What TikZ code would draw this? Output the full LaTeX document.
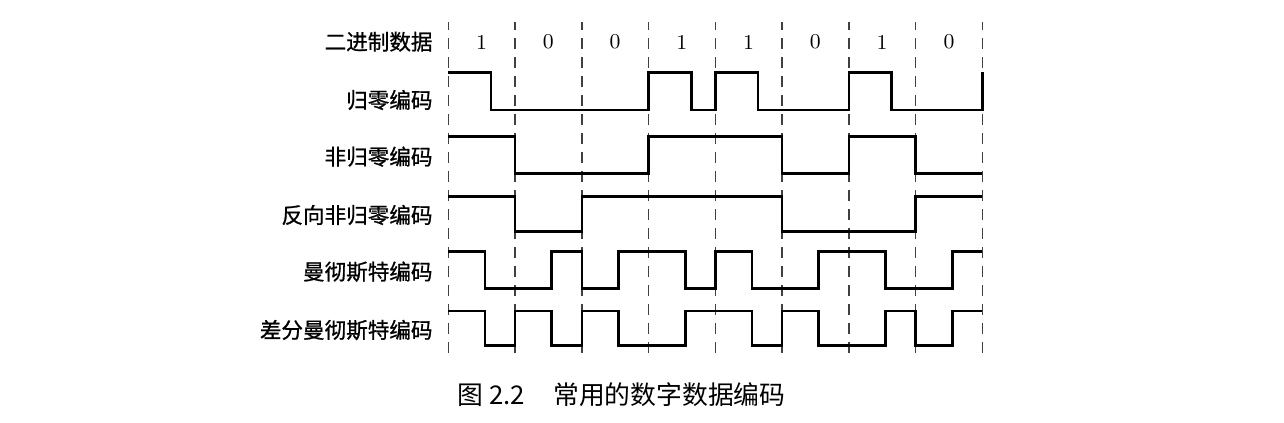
\documentclass[tikz,border=0pt]{standalone}
\usepackage{fontspec}
\newfontfamily\cjk{Noto Sans CJK SC}
\newfontfamily\cjkm[FakeBold=0.9]{Noto Sans CJK SC}
\usetikzlibrary{positioning}

\begin{document}
\begin{tikzpicture}
  [grid/.style={draw=black!75,line width=0.6pt,dash pattern=on 4.7pt off 3.4pt},
   signal/.style={draw=black,line width=1.1pt,line join=miter},
   rowname/.style={anchor=east,inner sep=0pt,font=\cjkm\fontsize{9.2}{9.2}\selectfont},
   bitval/.style={inner sep=0pt,font=\fontsize{9}{9}\selectfont}]
  \useasboundingbox (-6.716,0) rectangle (12.52,6.322);
  % time slots
  \foreach \i in {0,...,8}
    \draw[grid] (\i,1.034) -- (\i,5.997);
  \foreach \b [count=\i] in {1,0,0,1,1,0,1,0}
    \node[bitval] (bit\i) at (\i-0.5,5.693) {\b};
  % row names
  \node[rowname] (bin)   at (-0.229,5.697) {二进制数据};
  \node[rowname] (rz)    at (-0.229,4.824) {归零编码};
  \node[rowname] (nrz)   at (-0.229,3.975) {非归零编码};
  \node[rowname] (nrzi)  at (-0.229,3.101) {反向非归零编码};
  \node[rowname] (man)   at (-0.229,2.252) {曼彻斯特编码};
  \node[rowname] (dman)  at (-0.229,1.378) {差分曼彻斯特编码};
  % waveforms
  \draw[signal] (0,5.239) -| (0.64,4.674) -| (3,5.239) -| (3.64,4.674)
    -| (4,5.239) -| (4.64,4.674) -| (6,5.239) -| (6.64,4.674) -| (8,5.239);
  \draw[signal] (0,4.274) -| (1,3.726) -| (3,4.274) -| (5,3.726)
    -| (6,4.274) -| (7,3.726) -- (8,3.726);
  \draw[signal] (0,3.375) -| (1,2.851) -| (2,3.375) -| (5,2.851)
    -| (7,3.375) -- (8,3.375);
  \draw[signal] (0,2.551) -| (0.55,2.003) -| (1.55,2.551) -| (2,2.003)
    -| (2.55,2.551) -| (3.55,2.003) -| (4,2.551) -| (4.55,2.003)
    -| (5.55,2.551) -| (6.55,2.003) -| (7.55,2.551) -- (8,2.551);
  \draw[signal] (0,1.663) -| (0.55,1.143) -| (1,1.663) -| (1.55,1.143)
    -| (2,1.663) -| (2.55,1.143) -| (3.55,1.663) -| (4.55,1.143)
    -| (5,1.663) -| (5.55,1.143) -| (6.55,1.663) -| (7,1.143)
    -| (7.55,1.663) -- (8,1.663);
  % caption
  \node[inner sep=0pt,font=\cjk\fontsize{11}{11}\selectfont] (cap) at (2.595,0.404)
    {图 2.2\hspace{1.1em}常用的数字数据编码};
\end{tikzpicture}
\end{document}
